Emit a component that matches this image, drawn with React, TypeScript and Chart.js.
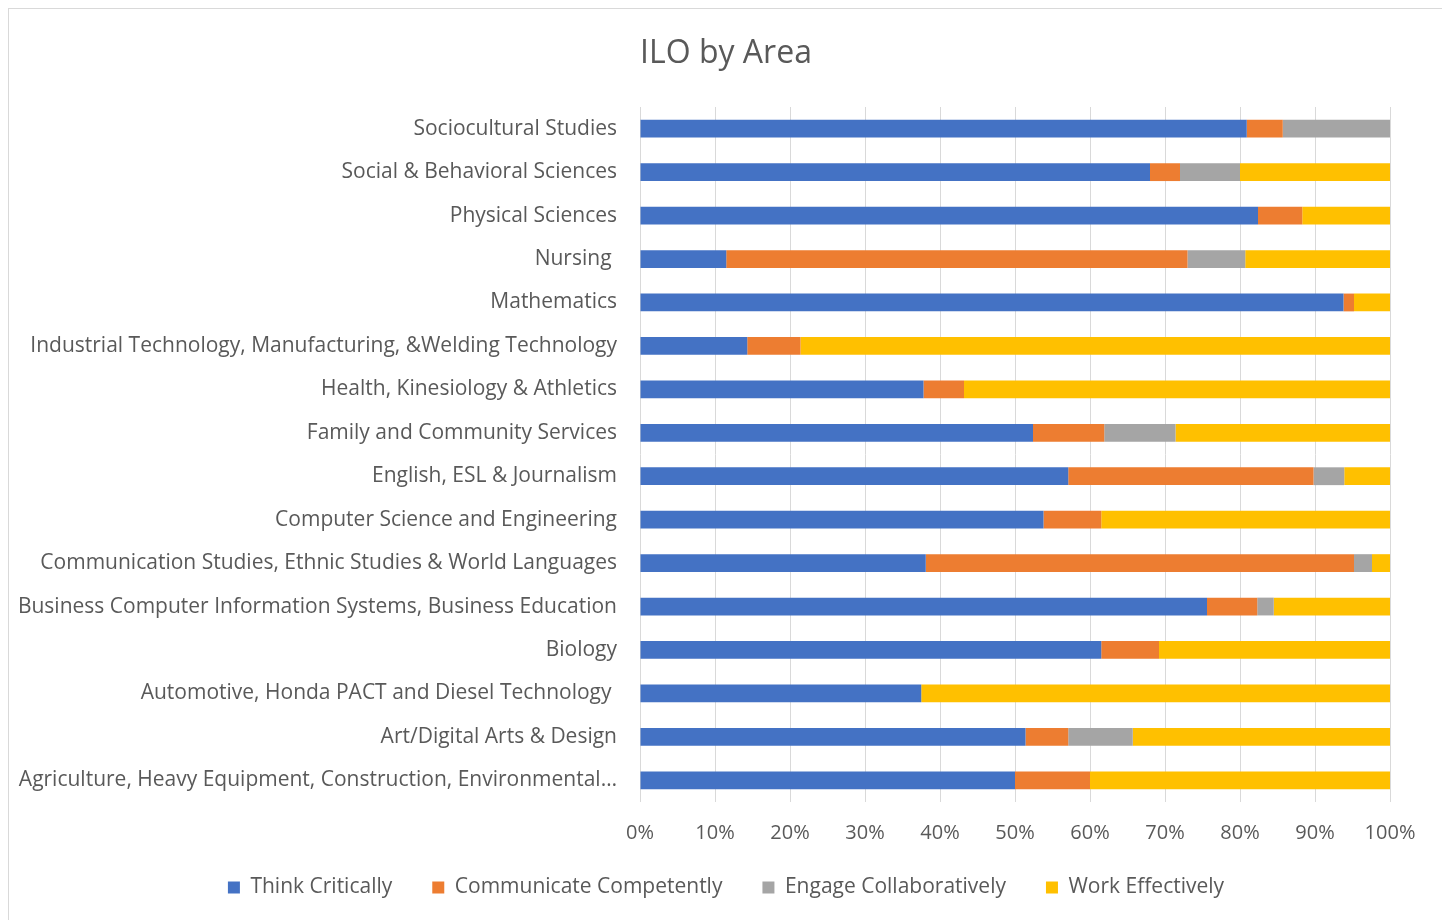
import React, { useEffect, useRef } from "react";
import { Chart, registerables } from "chart.js";

Chart.register(...registerables);

const categories = [
  "Sociocultural Studies",
  "Social & Behavioral Sciences",
  "Physical Sciences",
  "Nursing ",
  "Mathematics",
  "Industrial Technology, Manufacturing, &Welding Technology",
  "Health, Kinesiology & Athletics",
  "Family and Community Services",
  "English, ESL & Journalism",
  "Computer Science and Engineering",
  "Communication Studies, Ethnic Studies & World Languages",
  "Business Computer Information Systems, Business Education",
  "Biology",
  "Automotive, Honda PACT and Diesel Technology ",
  "Art/Digital Arts & Design",
  "Agriculture, Heavy Equipment, Construction, Environmental…",
];

const thinkCritically = [80.9, 68, 82.4, 11.5, 93.8, 14.3, 37.8, 52.4, 57.1, 53.8, 38.1, 75.6, 61.5, 37.5, 51.4, 50];
const communicateCompetently = [4.8, 4, 5.9, 61.5, 1.4, 7.1, 5.4, 9.5, 32.7, 7.7, 57.1, 6.7, 7.7, 0, 5.7, 10];
const engageCollaboratively = [14.3, 8, 0, 7.7, 0, 0, 0, 9.5, 4.1, 0, 2.4, 2.2, 0, 0, 8.6, 0];
const workEffectively = [0, 20, 11.7, 19.3, 4.8, 78.6, 56.8, 28.6, 6.1, 38.5, 2.4, 15.5, 30.8, 62.5, 34.3, 40];

const seriesNames = ["Think Critically", "Communicate Competently", "Engage Collaboratively", "Work Effectively"];
const xTickValues = [0, 10, 20, 30, 40, 50, 60, 70, 80, 90, 100];

const FONT = "'Open Sans', Lato, sans-serif";
const TEXT = "#595959";

export default function App() {
  const ref = useRef<HTMLCanvasElement>(null);
  useEffect(() => {
    if (!ref.current) return;
    const colors = ["#4472C4", "#ED7D31", "#A5A5A5", "#FFC000"];
    const values = [thinkCritically, communicateCompetently, engageCollaboratively, workEffectively];
    const chart = new Chart(ref.current, {
      type: "bar",
      data: {
        labels: categories,
        datasets: seriesNames.map((name, i) => ({
          label: name,
          data: values[i],
          backgroundColor: colors[i],
          borderWidth: 0,
          barPercentage: 0.41,
          categoryPercentage: 1,
        })),
      },
      options: {
        indexAxis: "y",
        animation: false,
        responsive: false,
        maintainAspectRatio: false,
        layout: { padding: { left: 53, right: 53, top: 0, bottom: 12 } },
        scales: {
          x: {
            stacked: true,
            min: 0,
            max: 100,
            afterBuildTicks: (scale: any) => {
              scale.ticks = xTickValues.map((v) => ({ value: v }));
            },
            afterFit: (scale: any) => {
              scale.height = 35;
              scale._computeLabelArea = () => undefined;
            },
            grid: { color: "#d9d9d9", drawTicks: false, lineWidth: 1 },
            border: { display: false },
            ticks: {
              padding: 19,
              color: TEXT,
              font: { family: FONT, size: 20 },
              callback: (v: any) => v + "%",
            },
          },
          y: {
            stacked: true,
            afterFit: (scale: any) => {
              scale.width = 578;
              scale._computeLabelArea = () => undefined;
            },
            grid: { display: false, drawTicks: false },
            border: { display: false },
            ticks: {
              padding: 23,
              color: TEXT,
              font: { family: FONT, size: 21 },
              autoSkip: false,
            },
          },
        },
        plugins: {
          title: {
            display: true,
            text: "ILO by Area",
            color: TEXT,
            font: { family: FONT, size: 32, weight: "normal" },
            padding: { top: 26, bottom: 33.6 },
          },
          legend: {
            position: "bottom",
            labels: {
              boxWidth: 12,
              boxHeight: 12,
              padding: 40,
              color: TEXT,
              font: { family: FONT, size: 21 },
            },
          },
          tooltip: { enabled: false },
        },
      },
    });
    return () => chart.destroy();
  }, []);
  return (
    <div style={{ width: 1434, height: 920, border: "1px solid #d9d9d9", background: "#fff" }}>
      <canvas ref={ref} width={1434} height={911} style={{ display: "block" }} />
    </div>
  );
}
